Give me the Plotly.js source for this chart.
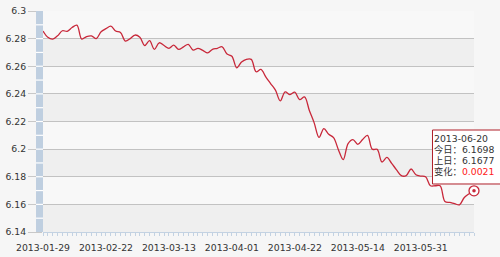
<!DOCTYPE html>
<html>
<head>
<meta charset="utf-8">
<script src="https://cdn.plot.ly/plotly-3.0.1.min.js"></script>
<style>html,body{margin:0;padding:0;background:#f6f6f6;}#chart{width:500px;height:257px;}</style>
</head>
<body>
<div id="chart"></div>
<script>
const dates = [
 '2013-01-29','2013-01-30','2013-01-31','2013-02-01','2013-02-04','2013-02-05','2013-02-06','2013-02-07','2013-02-08',
 '2013-02-18','2013-02-19','2013-02-20','2013-02-21','2013-02-22','2013-02-25','2013-02-26','2013-02-27','2013-02-28',
 '2013-03-01','2013-03-04','2013-03-05','2013-03-06','2013-03-07','2013-03-08','2013-03-11','2013-03-12','2013-03-13',
 '2013-03-14','2013-03-15','2013-03-18','2013-03-19','2013-03-20','2013-03-21','2013-03-22','2013-03-25','2013-03-26',
 '2013-03-27','2013-03-28','2013-03-29','2013-04-01','2013-04-02','2013-04-03','2013-04-08','2013-04-09','2013-04-10',
 '2013-04-11','2013-04-12','2013-04-15','2013-04-16','2013-04-17','2013-04-18','2013-04-19','2013-04-22','2013-04-23',
 '2013-04-24','2013-04-25','2013-04-26','2013-05-02','2013-05-03','2013-05-06','2013-05-07','2013-05-08','2013-05-09',
 '2013-05-10','2013-05-13','2013-05-14','2013-05-15','2013-05-16','2013-05-17','2013-05-20','2013-05-21','2013-05-22',
 '2013-05-23','2013-05-24','2013-05-27','2013-05-28','2013-05-29','2013-05-30','2013-05-31','2013-06-03','2013-06-04',
 '2013-06-05','2013-06-06','2013-06-07','2013-06-13','2013-06-14','2013-06-17','2013-06-18','2013-06-19','2013-06-20'
];
const rates = [
 6.2855,6.2810,6.2797,6.2820,6.2857,6.2853,6.2880,6.2898,6.2797,
 6.2815,6.2820,6.2800,6.2850,6.2872,6.2890,6.2855,6.2845,6.2782,
 6.2800,6.2826,6.2810,6.2750,6.2785,6.2722,6.2770,6.2750,6.2730,
 6.2753,6.2722,6.2740,6.2758,6.2717,6.2730,6.2715,6.2697,6.2722,
 6.2730,6.2741,6.2688,6.2673,6.2589,6.2630,6.2650,6.2650,6.2560,
 6.2577,6.2523,6.2475,6.2427,6.2349,6.2414,6.2395,6.2412,6.2359,
 6.2378,6.2280,6.2190,6.2085,6.2148,6.2107,6.2083,6.1996,6.1924,
 6.2040,6.2069,6.2035,6.2070,6.2100,6.1999,6.1999,6.1907,6.1940,
 6.1897,6.1850,6.1808,6.1808,6.1856,6.1815,6.1805,6.1800,6.1735,
 6.1735,6.1735,6.1621,6.1614,6.1605,6.1597,6.1650,6.1677,6.1698
];
const xLabels = ['2013-01-29','2013-02-22','2013-03-13','2013-04-01','2013-04-22','2013-05-14','2013-05-31'];
const yMin = 6.14, yMax = 6.3, yStep = 0.02;
const tipLabels = ['今日：', '上日：', '变化：'];

const n = rates.length;
const lastDate = dates[n - 1];
const lastVal = rates[n - 1];
const prevVal = rates[n - 2];
const change = lastVal - prevVal;

const lineColor = '#c8283a';
const font = {family: 'DejaVu Sans, Noto Sans CJK SC, sans-serif', size: 9.3, color: '#333'};

const shapes = [];
for (let k = 0; k < Math.round((yMax - yMin) / yStep); k++) {
  if (k % 2 === 0) {
    shapes.push({type: 'rect', xref: 'paper', yref: 'y', x0: 0, x1: 1,
      y0: yMin + k * yStep, y1: yMin + (k + 1) * yStep,
      fillcolor: '#efefef', line: {width: 0}, layer: 'below'});
  }
}
shapes.push({type: 'rect', xref: 'paper', yref: 'y', x0: -0.0162, x1: 0, y0: yMin, y1: yMax,
  fillcolor: '#bfcfe0', line: {width: 0}, layer: 'above'});
for (let k = 1; k < Math.round((yMax - yMin) / 0.01); k++) {
  const yy = yMin + k * 0.01;
  shapes.push({type: 'line', xref: 'paper', yref: 'y', x0: -0.0162, x1: 0, y0: yy, y1: yy,
    line: {color: '#ffffff', width: 1.2}, layer: 'above'});
}
shapes.push({type: 'rect', xref: 'paper', yref: 'paper', x0: 0.9037, x1: 1.2, y0: 0.2172, y1: 0.4615,
  fillcolor: '#ffffff', line: {color: '#b0202a', width: 1}, layer: 'above'});

const tipLines = [
  lastDate,
  tipLabels[0] + lastVal.toFixed(4),
  tipLabels[1] + prevVal.toFixed(4),
  tipLabels[2] + '<span style="color:#ff2020">' + change.toFixed(4) + '</span>'
];
const tipY = [0.424, 0.3742, 0.3244, 0.2747];
const annotations = tipLines.map((t, i) => ({
  xref: 'paper', yref: 'paper', x: 0.9035, y: tipY[i], xanchor: 'left', yanchor: 'middle',
  text: t, showarrow: false, font: font
}));

const traces = [
  {x: dates, y: rates, type: 'scatter', mode: 'lines',
   line: {color: lineColor, width: 1.3, shape: 'spline', smoothing: 1}, hoverinfo: 'skip'},
  {x: [lastDate], y: [lastVal], type: 'scatter', mode: 'markers', cliponaxis: false,
   marker: {symbol: 'circle', size: 10, color: '#ffffff', line: {color: lineColor, width: 1.3}}},
  {x: [lastDate], y: [lastVal], type: 'scatter', mode: 'markers', cliponaxis: false,
   marker: {symbol: 'circle', size: 3.5, color: lineColor}}
];

const layout = {
  width: 500, height: 257,
  margin: {l: 43, r: 26, t: 11, b: 25, pad: 0},
  paper_bgcolor: '#f6f6f6', plot_bgcolor: '#f8f8f8',
  showlegend: false,
  font: font,
  xaxis: {
    type: 'category', categoryorder: 'array', categoryarray: dates,
    range: [0, n - 1],
    tickmode: 'array', tickvals: dates,
    ticktext: dates.map(d => xLabels.includes(d) ? d : ''),
    ticks: 'outside', ticklen: 3, tickcolor: '#c3d2e2', tickwidth: 1,
    ticklabelstandoff: 4,
    showgrid: false, showline: true, linecolor: '#c3d2e2', linewidth: 1,
    zeroline: false, tickfont: font, tickangle: 0, automargin: false
  },
  yaxis: {
    range: [yMin, yMax], tick0: yMin, dtick: yStep, tickmode: 'linear',
    ticks: 'outside', ticklen: 14, tickcolor: '#c8c8c8', tickwidth: 1,
    showgrid: true, gridcolor: '#c2c2c2', gridwidth: 1,
    showline: false, zeroline: false, tickfont: font, automargin: false
  },
  shapes: shapes,
  annotations: annotations
};

Plotly.newPlot('chart', traces, layout, {displayModeBar: false, staticPlot: true});
</script>
</body>
</html>
